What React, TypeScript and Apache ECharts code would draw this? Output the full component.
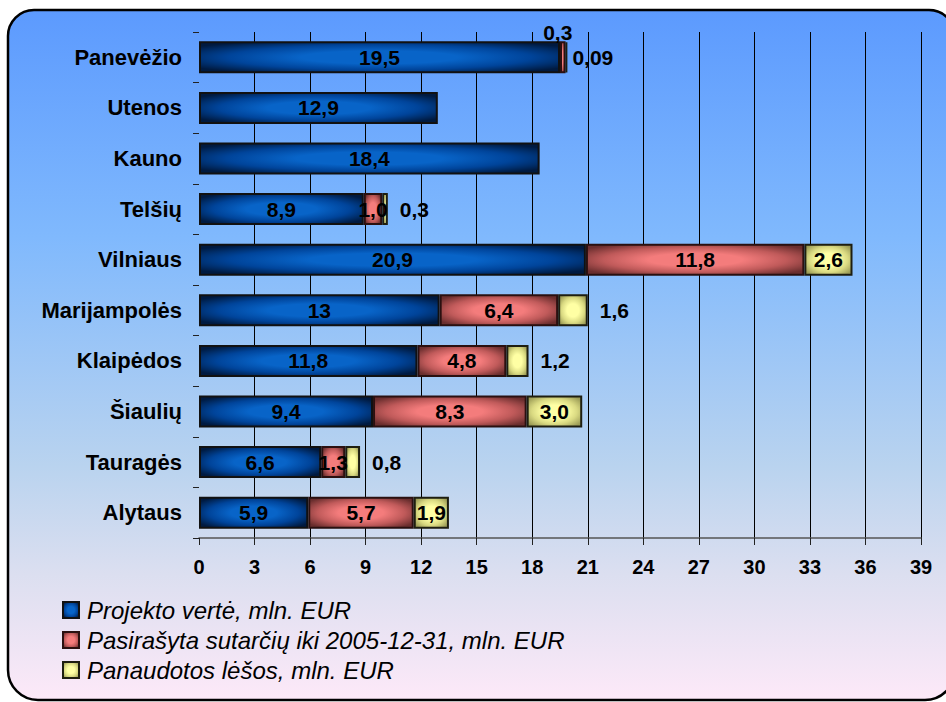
import React, { useEffect, useRef } from "react";
import * as echarts from "echarts";

const categories = [
  "Panevėžio",
  "Utenos",
  "Kauno",
  "Telšių",
  "Vilniaus",
  "Marijampolės",
  "Klaipėdos",
  "Šiaulių",
  "Tauragės",
  "Alytaus",
];
const projectValue = [19.5, 12.9, 18.4, 8.9, 20.9, 13, 11.8, 9.4, 6.6, 5.9];
const signedValue = [0.3, null, null, 1.0, 11.8, 6.4, 4.8, 8.3, 1.3, 5.7];
const usedValue = [0.09, null, null, 0.3, 2.6, 1.6, 1.2, 3.0, 0.8, 1.9];
const seriesNames = [
  "Projekto vertė, mln. EUR",
  "Pasirašyta sutarčių iki 2005-12-31, mln. EUR",
  "Panaudotos lėšos, mln. EUR",
];
const xMin = 0;
const xMax = 39;
const xStep = 3;

// label placement (style, not data)
const signedLabelPos = ["top", "inside", "inside", "inside", "inside", "inside", "inside", "inside", "inside", "inside"];
const usedLabelPos = ["right", "inside", "inside", "right", "inside", "right", "right", "inside", "right", "inside"];

const FONT = "Arial, 'Liberation Sans', sans-serif";

const grad = (c0: string, cMid: string, c1: string) =>
  new echarts.graphic.RadialGradient(0.5, 0.5, 0.62, [
    { offset: 0, color: c0 },
    { offset: 0.35, color: c0 },
    { offset: 0.68, color: cMid },
    { offset: 1, color: c1 },
  ]);

const fmtPlain = (v: number) => String(v).replace(".", ",");
const fmtDec = (v: number) => {
  const s = Math.abs(v * 10 - Math.round(v * 10)) < 1e-9 ? v.toFixed(1) : v.toFixed(2);
  return s.replace(".", ",");
};

export default function App() {
  const ref = useRef<HTMLDivElement>(null);
  useEffect(() => {
    if (!ref.current) return;
    const chart = echarts.init(ref.current, undefined, { renderer: "svg" });

    const labelBase = {
      show: true,
      color: "#000",
      fontFamily: FONT,
      fontWeight: "bold" as const,
      fontSize: 21,
    };

    const option: any = {
      animation: false,
      textStyle: { fontFamily: FONT },
      graphic: [
        {
          type: "rect",
          z: -10,
          silent: true,
          shape: { x: 8, y: 10, width: 947, height: 690, r: [26, 26, 30, 30] },
          style: {
            fill: new echarts.graphic.LinearGradient(0, 0, 0, 1, [
              { offset: 0, color: "#5c9afe" },
              { offset: 0.33, color: "#80b9fd" },
              { offset: 0.66, color: "#b9d3ef" },
              { offset: 0.82, color: "#dcdff0" },
              { offset: 1, color: "#fde9f8" },
            ]),
            stroke: "#000",
            lineWidth: 2.5,
          },
        },
      ],
      grid: { left: 199, right: 25, top: 32, bottom: 164, containLabel: false },
      legend: {
        orient: "vertical",
        left: 62,
        top: 598,
        padding: 0,
        itemWidth: 16,
        itemHeight: 16,
        itemGap: 6,
        icon: "rect",
        data: seriesNames,
        textStyle: {
          fontFamily: FONT,
          fontStyle: "italic",
          fontSize: 24,
          lineHeight: 24,
          color: "#000",
          padding: [0, 0, 0, 3],
        },
      },
      xAxis: {
        type: "value",
        min: xMin,
        max: xMax,
        interval: xStep,
        axisLine: { show: true, lineStyle: { color: "#555", width: 1.5 } },
        axisTick: { show: true, length: 7, lineStyle: { color: "#222", width: 1 } },
        splitLine: { show: true, showMinLine: false, lineStyle: { color: "#000", width: 1 } },
        axisLabel: {
          color: "#000",
          fontFamily: FONT,
          fontWeight: "bold",
          fontSize: 20,
          margin: 19,
        },
      },
      yAxis: {
        type: "category",
        data: categories,
        inverse: true,
        axisLine: { show: false },
        axisTick: { show: true, length: 6, lineStyle: { color: "#222", width: 1 } },
        axisLabel: {
          color: "#000",
          fontFamily: FONT,
          fontWeight: "bold",
          fontSize: 22,
          margin: 17,
        },
      },
      series: [
        {
          name: seriesNames[0],
          type: "bar",
          stack: "total",
          barWidth: 32,
          itemStyle: {
            color: grad("#0864c8", "#00449a", "#001a40"),
            borderColor: "#111",
            borderWidth: 2,
          },
          label: { ...labelBase, position: "inside", formatter: (p: any) => fmtPlain(p.value) },
          data: projectValue,
        },
        {
          name: seriesNames[1],
          type: "bar",
          stack: "total",
          barWidth: 32,
          itemStyle: {
            color: grad("#f47c7c", "#c05a5a", "#6a2e2e"),
            borderColor: "#2a1010",
            borderWidth: 2,
          },
          label: { ...labelBase, formatter: (p: any) => fmtDec(p.value) },
          data: signedValue.map((v, i) => ({
            value: v,
            label:
              signedLabelPos[i] === "top"
                ? { position: "top", distance: 0, offset: [-5, 2] }
                : { position: "inside" },
          })),
        },
        {
          name: seriesNames[2],
          type: "bar",
          stack: "total",
          barWidth: 32,
          itemStyle: {
            color: grad("#ffffa4", "#dada82", "#9c9c56"),
            borderColor: "#1e1e10",
            borderWidth: 2,
          },
          label: { ...labelBase, formatter: (p: any) => fmtDec(p.value) },
          data: usedValue.map((v, i) => ({
            value: v,
            label:
              usedLabelPos[i] === "right"
                ? { position: "right", distance: i === 0 ? 5 : 12 }
                : { position: "inside" },
          })),
        },
      ],
    };

    chart.setOption(option);
    return () => chart.dispose();
  }, []);

  return (
    <div
      ref={ref}
      style={{ position: "absolute", left: 0, top: 0, width: 946, height: 702 }}
    />
  );
}
